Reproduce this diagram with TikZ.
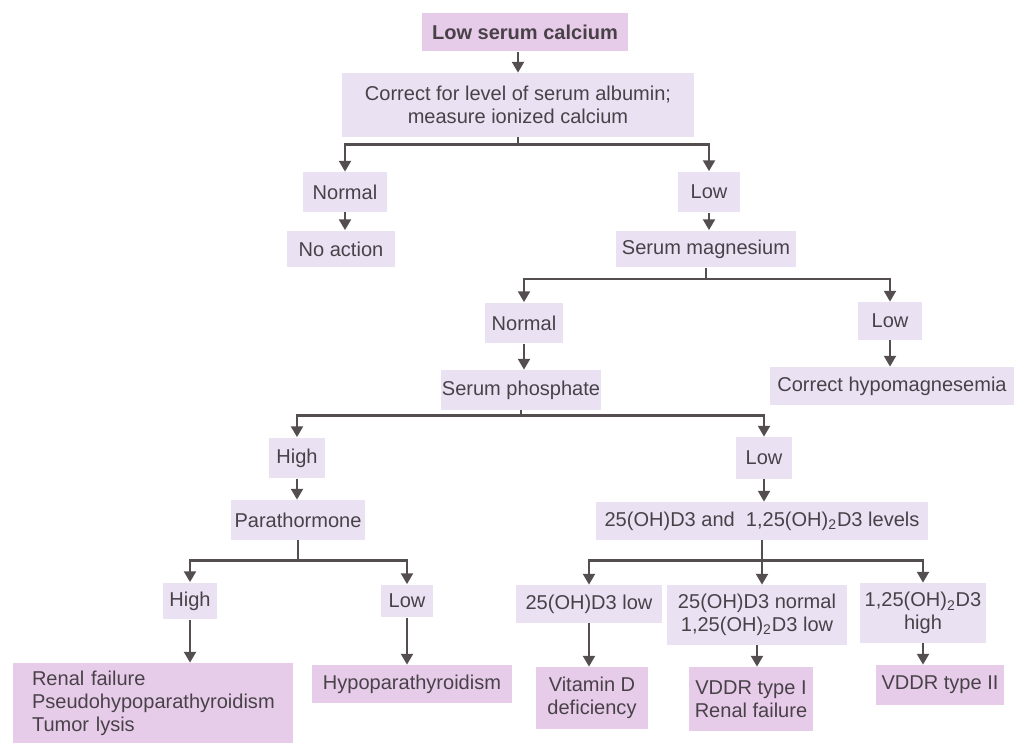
\documentclass[tikz,border=0pt]{standalone}
\usepackage{fontspec}
\setmainfont{Liberation Sans}
\usetikzlibrary{arrows.meta}

\definecolor{boxlav}{RGB}{234,226,243}
\definecolor{boxpink}{RGB}{231,204,234}
\definecolor{linegray}{RGB}{84,78,80}
\definecolor{txtgray}{RGB}{72,66,72}

\tikzset{
    box/.style={fill=boxlav,text=txtgray,inner sep=0pt,align=center,
        font=\fontsize{11.4}{12.8}\selectfont},
    rbox/.style={box,fill=boxpink},
    lin/.style={draw=linegray,line width=1.4pt},
    arr/.style={lin,-{Triangle[width=6.8pt,length=6.2pt]}},
}

\begin{document}
\begin{tikzpicture}[x=0.02cm,y=-0.02cm]

    \useasboundingbox (0,0) rectangle (1015,743);

    \node[rbox,minimum width=4.12cm,minimum height=0.78cm,font=\fontsize{11.4}{12.8}\selectfont\bfseries] (calc) at (525,32) {Low serum calcium};
    \node[box,minimum width=7.06cm,minimum height=1.28cm] (corr) at (518,105) {Correct for level of serum albumin;\\measure ionized calcium};

    \node[box,minimum width=1.68cm,minimum height=0.8cm] (norma) at (345,192) {Normal};
    \node[box,minimum width=2.16cm,minimum height=0.74cm] (noact) at (341,249) {No action};
    \node[box,minimum width=1.24cm,minimum height=0.82cm] (lowa) at (709,192) {Low};
    \node[box,minimum width=3.6cm,minimum height=0.74cm] (magn) at (706,249) {Serum magnesium};

    \node[box,minimum width=1.56cm,minimum height=0.82cm] (normb) at (524,323) {Normal};
    \node[box,minimum width=1.28cm,minimum height=0.76cm] (lowb) at (890,321) {Low};
    \node[box,minimum width=3.2cm,minimum height=0.8cm] (phos) at (521,390) {Serum phosphate};
    \node[box,minimum width=4.88cm,minimum height=0.76cm] (hypomag) at (892,386) {Correct hypomagnesemia};

    \node[box,minimum width=1.12cm,minimum height=0.82cm] (higha) at (297,458) {High};
    \node[box,minimum width=1.12cm,minimum height=0.84cm] (lowc) at (764,458) {Low};
    \node[box,minimum width=2.7cm,minimum height=0.8cm] (pth) at (298,520) {Parathormone};
    \node[box,minimum width=6.66cm,minimum height=0.76cm] (vitlev) at (762,521) {25(OH)D3 and\ \ 1,25(OH)\textsubscript{2}D3 levels};

    \node[box,minimum width=1.08cm,minimum height=0.74cm] (highb) at (190,601) {High};
    \node[box,minimum width=1.06cm,minimum height=0.66cm] (lowd) at (407,601) {Low};
    \node[rbox,text width=4.84cm,inner xsep=0.38cm,align=left,minimum height=1.6cm,
        font=\fontsize{11.4}{13}\selectfont] (renal) at (153,703) {Renal failure\\Pseudohypoparathyroidism\\Tumor lysis};
    \node[rbox,minimum width=4.02cm,minimum height=0.76cm] (hypopth) at (412,684) {Hypoparathyroidism};

    \node[box,minimum width=2.92cm,minimum height=0.76cm] (vdlow) at (589,604) {25(OH)D3 low};
    \node[box,minimum width=3.6cm,minimum height=1.2cm] (vdnorm) at (757,615) {25(OH)D3 normal\\1,25(OH)\textsubscript{2}D3 low};
    \node[box,minimum width=2.54cm,minimum height=1.2cm] (vdhigh) at (923,613) {1,25(OH)\textsubscript{2}D3\\high};
    \node[rbox,minimum width=2.26cm,minimum height=1.24cm] (vitd) at (592,698) {Vitamin D\\deficiency};
    \node[rbox,minimum width=2.5cm,minimum height=1.28cm] (vddra) at (751,699) {VDDR type I\\Renal failure};
    \node[rbox,minimum width=2.56cm,minimum height=0.8cm] (vddrb) at (940,685) {VDDR type II};

    \draw[arr] (corr.north |- calc.south) -- (corr.north);
    \draw[lin] (corr.south) -- ++(0,7) coordinate (ja);
    \draw[arr] (ja) -| (norma);
    \draw[arr] (ja) -| (lowa);
    \draw[arr] (norma.south) -- (norma.south |- noact.north);
    \draw[arr] (lowa.south) -- (lowa.south |- magn.north);

    \draw[lin] (magn.south) -- ++(0,11) coordinate (jb);
    \draw[arr] (jb) -| (normb);
    \draw[arr] (jb) -| (lowb);
    \draw[arr] (normb.south) -- (normb.south |- phos.north);
    \draw[arr] (lowb.south) -- (lowb.south |- hypomag.north);

    \draw[lin] (phos.south) -- ++(0,5) coordinate (jc);
    \draw[arr] (jc) -| (higha);
    \draw[arr] (jc) -| (lowc);
    \draw[arr] (higha.south) -- (higha.south |- pth.north);
    \draw[arr] (lowc.south) -- (lowc.south |- vitlev.north);

    \draw[lin] (pth.south) -- ++(0,20) coordinate (jd);
    \draw[arr] (jd) -| (highb);
    \draw[arr] (jd) -| (lowd);
    \draw[arr] (highb.south) -- (highb.south |- renal.north);
    \draw[arr] (lowd.south) -- (lowd.south |- hypopth.north);

    \draw[lin] (vitlev.south) -- ++(0,20) coordinate (je);
    \draw[arr] (je) -| (vdlow);
    \draw[arr] (je) -- (je |- vdnorm.north);
    \draw[arr] (je) -| (vdhigh);
    \draw[arr] (vdlow.south) -- (vdlow.south |- vitd.north);
    \draw[arr] (vdnorm.south) -- (vdnorm.south |- vddra.north);
    \draw[arr] (vdhigh.south) -- (vdhigh.south |- vddrb.north);

\end{tikzpicture}
\end{document}
